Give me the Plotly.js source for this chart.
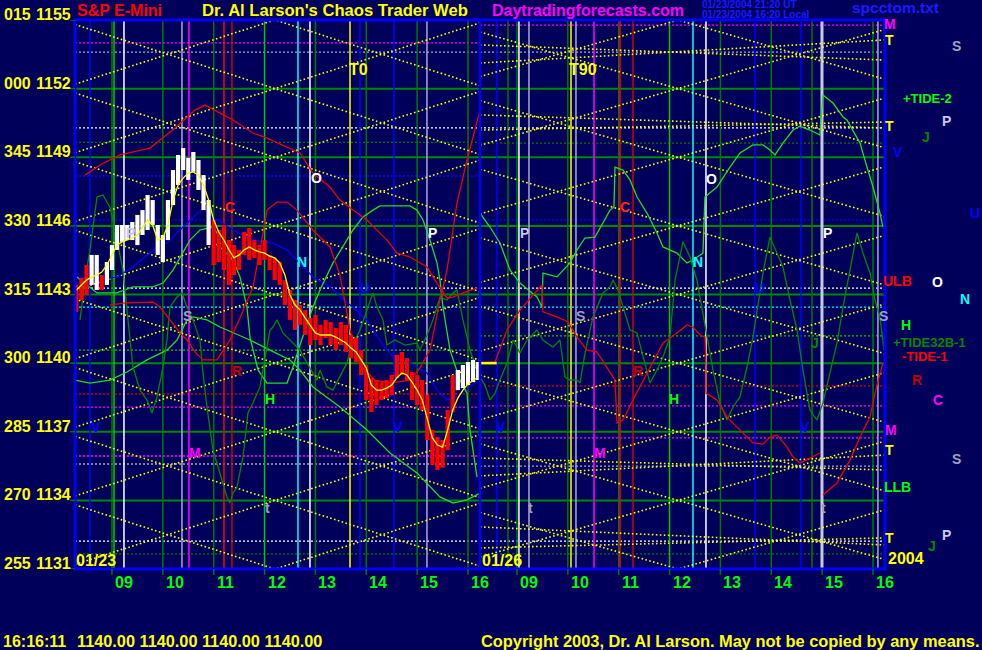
<!DOCTYPE html>
<html><head><meta charset="utf-8">
<script src="https://cdn.plot.ly/plotly-3.0.1.min.js"></script>
<style>html,body{margin:0;padding:0;background:#00005a;}#chart{width:982px;height:650px;}</style>
</head><body><div id="chart"></div>
<script>
// ================= DATA =================
// price grid (left axis) and the matching degree labels
const priceLevels  = [1155, 1152, 1149, 1146, 1143, 1140, 1137, 1134, 1131];
const degreeLabels = ['015','000','345','330','315','300','285','270','255'];
// hour ticks
const hourTicks  = [9, 10, 11, 12, 13, 14, 15, 16];
const hourLabels = ['09','10','11','12','13','14','15','16'];
// two sessions on a continuous hour axis (session 2 shifted by dayShift)
const dayShift   = 7.963;
const dayBounds  = [[8.273, 16.236], [16.236, 24.199]];
const dayLabels  = ['01/23', '01/26'];

// 6-minute bars, 01/23  (time in hours, high, low, 1 = white bar / 0 = red bar)
const barTime = [8.3,8.4,8.5,8.6,8.7,8.8,8.9,9.0,9.1,9.2,9.3,9.4,9.5,9.6,9.7,9.8,9.9,10.0,10.1,10.2,10.3,10.4,10.5,10.6,10.7,10.8,10.9,11.0,11.1,11.2,11.3,11.4,11.5,11.6,11.7,11.8,11.9,12.0,12.1,12.2,12.3,12.4,12.5,12.6,12.7,12.8,12.9,13.0,13.1,13.2,13.3,13.4,13.5,13.6,13.7,13.8,13.9,14.0,14.1,14.2,14.3,14.4,14.5,14.6,14.7,14.8,14.9,15.0,15.1,15.2,15.3,15.4,15.5,15.6,15.7,15.8,15.9,16.0,16.1,16.2];
const barHigh = [1143.42,1143.72,1144.29,1144.73,1144.73,1143.85,1144.42,1145.16,1146.04,1146.04,1146.04,1146.17,1146.48,1146.69,1147.35,1147.13,1146.04,1145.60,1147.13,1148.44,1149.10,1149.40,1148.97,1149.23,1148.88,1148.22,1147.13,1146.26,1145.82,1146.04,1145.38,1145.16,1144.95,1145.73,1145.91,1145.38,1145.16,1145.38,1144.73,1144.60,1144.42,1143.63,1143.20,1142.76,1142.54,1142.32,1141.97,1142.10,1141.67,1141.89,1141.80,1141.54,1141.80,1141.67,1141.23,1141.10,1140.57,1139.92,1139.35,1139.26,1139.17,1139.26,1139.48,1140.36,1140.49,1140.22,1139.61,1139.48,1139.26,1138.61,1137.08,1136.77,1136.64,1137.95,1139.48,1139.70,1139.92,1140.05,1140.14,1140.05];
const barLow  = [1142.24,1142.76,1142.98,1143.42,1143.20,1143.20,1143.42,1144.07,1144.95,1145.30,1145.38,1145.38,1145.16,1145.60,1145.82,1146.04,1144.73,1144.42,1145.38,1146.91,1147.79,1148.44,1148.01,1148.36,1147.57,1146.69,1145.16,1144.29,1144.42,1144.07,1143.42,1143.85,1144.07,1144.73,1144.51,1144.60,1144.29,1144.51,1144.07,1143.63,1143.42,1142.54,1141.89,1141.45,1141.67,1141.23,1140.79,1141.01,1140.79,1141.10,1140.79,1140.57,1140.79,1140.49,1140.22,1140.05,1139.48,1138.39,1137.86,1138.17,1138.39,1138.47,1138.61,1139.35,1139.48,1139.26,1138.39,1138.17,1137.95,1136.64,1135.55,1135.33,1135.42,1136.20,1137.86,1138.82,1138.91,1139.04,1139.17,1139.26];
const barUp   = [0,0,0,1,1,0,1,1,1,1,1,1,1,1,1,1,1,1,1,1,1,1,1,1,1,1,1,0,0,0,0,0,0,0,0,0,0,0,0,0,0,0,0,0,0,0,0,0,0,0,0,0,0,0,0,0,0,0,0,0,0,0,0,0,0,0,0,0,0,0,0,0,0,0,0,1,1,1,1,1];
// yellow average line over the bars
const avgLine = [1143.20,1143.42,1143.63,1143.77,1143.85,1143.98,1144.29,1144.73,1145.16,1145.30,1145.38,1145.47,1145.60,1145.91,1146.26,1146.04,1145.38,1145.47,1146.04,1147.13,1147.79,1148.09,1148.31,1148.36,1148.22,1147.79,1147.13,1146.26,1145.73,1145.38,1144.95,1144.60,1144.73,1144.95,1145.08,1144.95,1144.86,1144.81,1144.68,1144.60,1144.38,1143.85,1142.98,1142.54,1142.32,1141.97,1141.67,1141.32,1141.23,1141.23,1141.23,1141.14,1141.01,1140.88,1140.66,1140.49,1140.14,1139.79,1139.04,1138.82,1138.82,1138.91,1139.04,1139.35,1139.57,1139.48,1139.17,1138.82,1138.39,1137.51,1136.73,1136.42,1136.33,1137.08,1137.95,1138.47,1138.82,1139.09,1139.26,1139.39];
const lastPrice = 1140.00;

// forecast / cycle curves  [hour, price]
const redA = [[8.469,1148.22],[8.764,1148.66],[9.157,1149.10],[9.747,1149.40],[10.239,1150.28],[10.632,1151.06],[10.829,1151.28],[11.025,1151.06],[11.379,1150.63],[11.772,1150.06],[12.048,1149.84],[12.696,1149.19],[12.952,1148.31],[13.286,1147.70],[13.483,1147.13],[13.739,1146.69],[14.014,1146.26],[14.407,1145.38],[14.604,1144.81],[14.859,1144.64],[15.194,1144.20],[15.390,1143.50],[15.587,1142.85],[15.705,1142.89],[15.901,1143.07],[16.177,1143.28]];
const redB = [[8.961,1142.54],[9.256,1142.63],[9.806,1142.67],[9.944,1142.45],[10.337,1141.32],[10.475,1141.01],[10.632,1140.49],[10.789,1140.14],[11.064,1140.14],[11.320,1141.01],[11.517,1141.97],[11.772,1143.33],[11.910,1144.95],[12.048,1146.69],[12.244,1147.04],[12.441,1147.04],[12.637,1146.69],[12.952,1145.82],[13.286,1145.08],[13.483,1143.85],[13.680,1141.45],[13.876,1139.92],[14.171,1139.26],[14.466,1139.13],[14.859,1139.26],[15.056,1139.79],[15.253,1140.57],[15.449,1142.76],[15.587,1144.07],[15.783,1147.00],[15.980,1148.88],[16.177,1150.63],[16.236,1151.06]];
const redC = [[16.236,1140.01],[16.531,1140.05],[16.767,1141.45],[17.022,1142.32],[17.455,1143.42],[17.474,1142.24],[17.750,1142.02],[17.966,1141.80],[18.143,1141.14],[18.339,1140.57],[18.536,1140.49],[18.733,1139.83],[18.890,1139.26],[18.929,1137.38],[19.047,1137.51],[19.244,1138.39],[19.382,1138.96],[19.578,1139.83],[19.834,1140.88],[20.109,1141.32],[20.305,1141.67],[20.423,1141.58],[20.561,1141.23],[20.659,1141.14],[20.679,1139.83],[20.679,1138.69],[20.895,1138.39],[21.092,1137.64],[21.289,1137.21],[21.485,1136.77],[21.603,1136.51],[21.800,1136.46],[21.937,1136.77],[22.075,1136.86],[22.272,1136.33],[22.390,1135.90],[22.527,1135.63],[22.920,1136.07]];
const redD = [[22.979,1134.23],[23.255,1134.76],[23.511,1135.76],[23.707,1136.77],[23.904,1137.64],[24.002,1138.69],[24.159,1140.01]];
const blueA = [[8.312,1143.77],[8.764,1143.63],[9.098,1143.77],[9.413,1144.20],[9.885,1145.08],[10.081,1145.25],[10.337,1145.82],[10.593,1146.39],[10.789,1146.78],[10.986,1146.39],[11.379,1145.82],[11.772,1145.38],[12.166,1145.25],[12.441,1144.95],[12.696,1144.38],[12.952,1143.77],[13.286,1143.33],[13.581,1142.76],[14.014,1141.89],[14.328,1140.79],[14.525,1140.27],[14.859,1140.01],[15.194,1139.57],[15.390,1138.82],[15.587,1138.39],[15.783,1138.52],[16.039,1138.96],[16.177,1139.26]];
const greenA = [[8.312,1143.77],[8.705,1143.07],[9.098,1143.07],[9.413,1143.33],[9.806,1143.33],[10.003,1143.50],[10.199,1144.07],[10.396,1144.81],[10.534,1145.38],[10.730,1145.82],[10.986,1145.95],[11.064,1145.69],[11.124,1145.08],[11.379,1144.51],[11.517,1143.77],[11.654,1142.45],[11.713,1141.14],[11.871,1139.70],[12.048,1139.13],[12.441,1139.13],[12.559,1139.83],[12.696,1140.79],[12.952,1142.45],[13.090,1143.20],[13.345,1144.38],[13.739,1145.82],[13.935,1146.39],[14.132,1146.69],[14.270,1146.87],[14.859,1146.87],[14.997,1146.69],[15.115,1146.26],[15.253,1145.38],[15.390,1144.38],[15.449,1143.63],[15.508,1142.45],[15.587,1141.32],[15.646,1140.57],[15.842,1139.26],[15.980,1138.69],[16.039,1137.08],[16.177,1135.02]];
const greenB = [[8.273,1139.26],[8.567,1139.13],[8.961,1139.26],[9.295,1139.61],[9.688,1140.14],[10.081,1140.57],[10.278,1141.01],[10.475,1141.89],[10.593,1142.02],[10.868,1141.89],[11.124,1141.58],[11.379,1141.32],[11.713,1141.01],[12.107,1140.57],[12.500,1140.14],[12.696,1139.70],[12.952,1138.96],[13.483,1138.08],[14.014,1137.08],[14.466,1136.07],[14.997,1135.20],[15.449,1134.15],[15.705,1133.88],[15.980,1134.02],[16.236,1134.32]];
const greenC = [[16.236,1146.56],[16.432,1145.95],[16.629,1145.25],[16.825,1144.07],[17.022,1143.50],[17.356,1142.89],[17.455,1142.45],[17.474,1143.94],[17.750,1143.77],[18.005,1144.38],[18.143,1144.95],[18.300,1145.47],[18.497,1145.51],[18.654,1146.12],[18.792,1146.69],[18.870,1146.82],[18.890,1148.57],[19.047,1148.44],[19.185,1148.01],[19.323,1147.26],[19.519,1146.56],[19.716,1145.69],[19.834,1145.08],[20.109,1144.81],[20.305,1144.38],[20.423,1144.51],[20.620,1144.81],[20.659,1147.26],[20.895,1147.70],[21.151,1148.57],[21.348,1149.19],[21.603,1149.54],[21.800,1149.54],[21.937,1149.32],[22.036,1149.10],[22.193,1149.62],[22.390,1150.19],[22.527,1150.36],[22.724,1150.19],[22.920,1149.97],[22.940,1150.76],[22.979,1151.72],[23.176,1151.37],[23.373,1150.76],[23.451,1150.63],[23.707,1149.62],[23.845,1148.57],[23.963,1147.70],[24.100,1146.56],[24.159,1145.95]];
const dkGreenA = [[8.371,1141.89],[8.469,1143.63],[8.567,1144.95],[8.705,1147.26],[8.823,1147.35],[8.961,1146.82],[9.059,1145.82],[9.216,1144.07],[9.315,1141.89],[9.413,1139.83],[9.551,1138.82],[9.688,1138.39],[9.786,1137.82],[9.885,1138.52],[10.003,1139.83],[10.081,1141.01],[10.140,1142.45],[10.278,1142.89],[10.376,1143.07],[10.475,1142.45],[10.593,1141.89],[10.730,1141.01],[10.789,1139.57],[10.868,1138.08],[10.986,1136.20],[11.124,1135.20],[11.261,1134.15],[11.320,1133.88],[11.379,1134.32],[11.458,1134.58],[11.576,1135.90],[11.674,1137.82],[11.772,1138.26],[11.910,1138.96],[12.008,1140.14],[12.107,1141.45],[12.166,1141.58],[12.244,1141.89],[12.362,1141.32],[12.500,1141.01],[12.696,1140.57],[12.834,1140.01],[13.031,1139.26],[13.090,1139.70],[13.227,1138.96],[13.345,1138.82],[13.483,1139.39],[13.621,1140.01],[13.680,1140.57],[13.876,1141.45],[14.014,1142.32],[14.132,1143.07],[14.210,1142.45],[14.328,1141.89],[14.407,1140.79],[14.564,1141.01],[14.761,1140.79],[14.997,1140.88],[15.056,1140.57],[15.194,1141.23],[15.312,1141.89],[15.449,1142.89],[15.587,1142.76],[15.705,1143.07],[15.783,1143.20],[15.901,1141.89],[16.039,1140.57],[16.177,1139.70]];
const dkGreenB = [[16.236,1139.39],[16.334,1139.04],[16.432,1138.39],[16.531,1138.69],[16.629,1139.26],[16.767,1140.01],[16.885,1141.01],[17.022,1140.44],[17.160,1141.01],[17.356,1141.45],[17.474,1141.01],[17.671,1140.70],[17.809,1141.01],[17.907,1139.39],[18.005,1139.26],[18.143,1139.26],[18.202,1139.13],[18.300,1140.44],[18.457,1142.02],[18.654,1143.07],[18.792,1143.33],[18.851,1143.63],[18.949,1143.20],[19.047,1142.45],[19.185,1141.45],[19.323,1141.32],[19.441,1140.27],[19.578,1139.13],[19.716,1139.70],[19.834,1140.27],[19.971,1141.14],[20.070,1143.63],[20.227,1145.30],[20.364,1144.64],[20.502,1143.63],[20.620,1142.19],[20.699,1141.14],[20.817,1139.70],[20.954,1138.26],[21.092,1137.51],[21.210,1138.08],[21.348,1138.52],[21.485,1139.83],[21.603,1141.14],[21.800,1143.94],[21.937,1145.51],[22.075,1144.81],[22.193,1144.20],[22.331,1142.76],[22.468,1141.45],[22.586,1139.70],[22.724,1137.95],[22.862,1137.51],[22.979,1138.26],[23.117,1139.57],[23.255,1140.88],[23.373,1142.45],[23.511,1144.07],[23.648,1145.69],[23.766,1144.81],[23.904,1143.94],[24.002,1142.76],[24.100,1142.02],[24.179,1140.57]];

// vertical event lines (hour on the continuous axis, kind)
const vlineTime = [8.567, 9.04, 9.236, 10.376, 10.514, 11.202, 11.359, 12.657, 12.893, 13.68, 13.876, 14.545, 15.193,
                   16.57, 16.786, 17.002, 17.199, 18.025, 18.123, 18.477, 18.988, 19.244, 20.424, 20.679, 21.643, 22.547, 22.763, 22.96, 24.06];
const vlineKind = ['blue','green','white','lav','magenta','red','red2','cyan','white','yellow','blue','blue','lav',
                   'blue','dkgreen','white','lav','yellow','lav','magenta','red','red2','cyan','white','blue','blue','dkgreen','lavThick','lav'];

// dotted horizontal levels, per session
const dotPrice1 = [1154.00, 1153.60, 1150.28, 1149.65, 1148.18, 1146.26, 1143.28, 1142.45, 1140.57, 1138.65, 1138.08, 1135.94, 1135.59, 1132.22, 1131.66];
const dotKind1  = ['magenta','lav','white','dkgreen','blue','blue','white','cyan','green','dkred','magenta','magenta','lav','white','dkgreen'];
const dotPrice2 = [1154.78, 1153.60, 1150.28, 1149.62, 1146.26, 1143.28, 1142.45, 1141.19, 1139.00, 1138.13, 1136.73, 1135.50, 1132.22, 1131.66];
const dotKind2  = ['magenta','lav','white','dkgreen','blue','white','cyan','green','dkred','magenta','magenta','lav','white','dkgreen'];

// yellow time/price lattice: centre hour per session, slope (points per hour), spacing
const latticeCenter = [12.205, 20.129];
const latticeSlope  = [0.713, 0.636];
const latticeLevels = [1128, 1131, 1134, 1137, 1140, 1143, 1146, 1149, 1152, 1155, 1158];
// flatter "T" lines on session 2: [startPrice, endPrice]
const tLines = [[1153.12,1154.13],[1153.91,1153.25],[1150.85,1150.28],[1150.19,1150.54],[1135.07,1135.98],[1135.85,1135.33],[1132.84,1132.05],[1131.92,1132.36]];

// ================= STYLE =================
const COL = {
  blue:'#0000ff', dkgreen:'#007800', green:'#00c800', white:'#ffffff', lav:'#a8a8d0', lavThick:'#c8c8e6',
  magenta:'#ff00ff', red:'#ff0000', red2:'#d00000', dkred:'#c00000', cyan:'#00ffff', yellow:'#ffff00'
};
const BG = '#00005a';
const FONT = 'Liberation Sans, Arial, sans-serif';
const X0 = dayBounds[0][0], X1 = dayBounds[1][1], Y0 = 1131, Y1 = 1155;

const traces = [];
function add(x, y, color, width, dash) {
  traces.push({type:'scatter', mode:'lines', x:x, y:y, line:{color:color, width:width, dash:dash||'solid'},
               hoverinfo:'skip', showlegend:false, connectgaps:false});
}
function segs(list) { // list of [x0,y0,x1,y1]
  const x=[], y=[];
  list.forEach(s => { x.push(s[0], s[2], null); y.push(s[1], s[3], null); });
  return {x, y};
}

// solid green price grid
{
  const s = segs(priceLevels.slice(1, -1).map(p => [X0, p, X1, p]));
  add(s.x, s.y, '#008800', 2);
}
// dotted levels
[[dotPrice1, dotKind1, 0], [dotPrice2, dotKind2, 1]].forEach(([ps, ks, d]) => {
  const groups = {};
  ps.forEach((p, i) => { (groups[ks[i]] = groups[ks[i]] || []).push([dayBounds[d][0], p, dayBounds[d][1], p]); });
  Object.keys(groups).forEach(k => { const s = segs(groups[k]); add(s.x, s.y, COL[k], 1.3, '2px,2px'); });
});
// hour lines
{
  const dk = [], br = [];
  [0, 1].forEach(d => hourTicks.forEach(h => {
    const t = h + d * dayShift;
    (h === 12 ? br : dk).push([t, Y0, t, Y1]);
  }));
  let s = segs(dk); add(s.x, s.y, COL.dkgreen, 1.5);
  s = segs(br); add(s.x, s.y, COL.green, 1.5);
}
// event lines
{
  const groups = {};
  vlineTime.forEach((t, i) => { (groups[vlineKind[i]] = groups[vlineKind[i]] || []).push([t, Y0, t, Y1]); });
  Object.keys(groups).forEach(k => { const s = segs(groups[k]); add(s.x, s.y, COL[k], k === 'lavThick' ? 3 : 1.5); });
}
// lattice
{
  const L = [];
  [0, 1].forEach(d => {
    const a = dayBounds[d][0], b = dayBounds[d][1], c = latticeCenter[d], m = latticeSlope[d];
    latticeLevels.forEach(p => {
      L.push([a, p + m * (a - c), b, p + m * (b - c)]);
      L.push([a, p - m * (a - c), b, p - m * (b - c)]);
    });
  });
  const s = segs(L); add(s.x, s.y, COL.yellow, 1.6, '1.6px,2.4px');
  const T = segs(tLines.map(v => [dayBounds[1][0], v[0], dayBounds[1][1], v[1]]));
  add(T.x, T.y, COL.yellow, 1.6, '1.6px,2.4px');
}
// curves
function curve(arr, color, width) { add(arr.map(v => v[0]), arr.map(v => v[1]), color, width); }
curve(blueA, '#0000ff', 1.3);
curve(greenB, '#22dd22', 1.3);
curve(greenA, '#22dd22', 1.3);
curve(greenC, '#22dd22', 1.3);
curve(dkGreenA, '#008800', 1.3);
curve(dkGreenB, '#008800', 1.3);
curve(redA, '#ee0000', 1.3);
curve(redB, '#ee0000', 1.3);
curve(redC, '#ee0000', 1.3);
curve(redD, '#ee0000', 1.3);
// bars
{
  const w = [], r = [];
  barTime.forEach((t, i) => (barUp[i] ? w : r).push([t, barLow[i], t, barHigh[i]]));
  let s = segs(r); add(s.x, s.y, '#ff0000', 4.2);
  s = segs(w); add(s.x, s.y, '#ffffff', 4.2);
}
add(barTime, avgLine, '#ffff00', 1.3);
add([dayBounds[1][0], dayBounds[1][0] + 0.33], [lastPrice, lastPrice], '#ffff00', 2.5);

// ================= TEXT =================
const ann = [];
function P(x, y) { return {x: (x - 75) / 810, y: (569 - y) / 549}; }
function txt(s, x, y, color, size, anchor) {
  const p = P(x, y);
  ann.push({xref:'paper', yref:'paper', x:p.x, y:p.y, text:'<b>' + s + '</b>', showarrow:false,
            xanchor:anchor || 'center', yanchor:'middle', font:{family:FONT, size:size, color:color}});
}
// header / footer
txt('S&amp;P E-Mini', 119, 11, '#ff0000', 16);
txt("Dr. Al Larson's Chaos Trader Web", 335, 11, '#ffff00', 16.6);
txt('Daytradingforecasts.com', 588, 11, '#ff00ff', 16);
txt('01/23/2004 21:20 UT', 700, 5, '#1a1aff', 10, 'left');
txt('01/23/2004 16:20 Local', 700, 15, '#1a1aff', 10, 'left');
txt('spcctom.txt', 895, 8, '#1a1aff', 15.5);
txt('16:16:11', 1, 641, '#ffff00', 16, 'left');
txt('1140.00 1140.00 1140.00 1140.00', 75, 641, '#ffff00', 16.3, 'left');
txt('Copyright 2003, Dr. Al Larson. May not be copied by any means.', 479, 641, '#ffff00', 16.4, 'left');
// left axis labels
priceLevels.forEach((p, i) => {
  ann.push({xref:'paper', yref:'y', x:-73/810, y:p, text:'<b>' + degreeLabels[i] + '</b>', showarrow:false,
            xanchor:'left', yanchor:'bottom', yshift:-5, font:{family:FONT, size:16, color:'#ffff00'}});
  ann.push({xref:'paper', yref:'y', x:-2/810, y:p, text:'<b>' + p + '</b>', showarrow:false,
            xanchor:'right', yanchor:'bottom', yshift:-5, font:{family:FONT, size:16, color:'#ffff00'}});
});
// hour labels
[0, 1].forEach(d => hourTicks.forEach((h, i) => {
  ann.push({xref:'x', yref:'paper', x:h + d * dayShift, y:0, xshift:12, yshift:-3, text:'<b>' + hourLabels[i] + '</b>',
            showarrow:false, xanchor:'center', yanchor:'top', font:{family:FONT, size:16, color:'#00ff00'}});
}));
// session dates
txt(dayLabels[0], 96, 560, '#ffff00', 16);
txt(dayLabels[1], 502, 560, '#ffff00', 16);
txt('2004', 906, 558, '#ffff00', 16);
txt('T0', 358, 69, '#ffff00', 16);
txt('T90', 583, 69, '#ffff00', 16);
// in-plot letters
const LAV = '#c8c8f0', GRY = '#a0a0c0';
[['P',130,233,LAV],['S',187,316,GRY],['C',230,207,'#ff2020'],['O',316,178,'#ffffff'],['N',302,262,'#00ffff'],
 ['R',237,371,'#c00000'],['H',270,399,'#00ff00'],['V',96,427,'#0000ff'],['M',195,453,'#ff00ff'],['t',267,508,GRY],
 ['P',432,233,'#ffffff'],['U',365,288,'#0000ff'],['V',398,427,'#0000ff'],
 ['P',524,233,LAV],['S',580,316,GRY],['C',625,207,'#ff2020'],['O',711,179,'#ffffff'],['N',698,262,'#00ffff'],
 ['U',760,288,'#0000ff'],['P',827,233,'#ffffff'],['S',883,316,GRY],['R',638,371,'#c00000'],['H',674,399,'#00ff00'],
 ['V',501,427,'#0000ff'],['V',805,427,'#0000ff'],['M',600,453,'#ff00ff'],['t',530,508,GRY],['t',823,508,GRY],['J',815,343,'#008800']
].forEach(a => txt(a[0], a[1], a[2], a[3], 14));
// right column
[['M',890,24,'#ff00ff'],['T',889,40,'#ffff00'],['S',956,46,GRY],['+TIDE-2',927,98,'#00ff00'],['T',889,126,'#ffff00'],
 ['P',946,121,LAV],['J',926,137,'#008800'],['V',898,152,'#0000ff'],['U',975,213,'#0000ff'],['ULB',898,281,'#ff0000'],
 ['O',938,282,'#ffffff'],['N',965,299,'#00ffff'],['H',906,325,'#00ff00'],['+TIDE32B-1',929,342,'#008800'],
 ['-TIDE-1',925,357,'#ff0000'],['R',917,380,'#c00000'],['C',938,400,'#ff00ff'],['M',891,430,'#ff00ff'],
 ['T',889,450,'#ffff00'],['S',956,459,GRY],['LLB',897,487,'#00ff00'],['T',889,538,'#ffff00'],['P',946,535,LAV],['J',932,546,'#008800']
].forEach(a => txt(a[0], a[1], a[2], a[3], a[0].length > 3 ? 13 : 14));

// ================= SHAPES =================
const shapes = [
  {type:'rect', xref:'paper', yref:'paper', x0:0, x1:1, y0:0, y1:1, line:{color:'#0000ff', width:3}},
  {type:'line', xref:'x', yref:'paper', x0:dayBounds[1][0], x1:dayBounds[1][0], y0:0, y1:1, line:{color:'#0000ff', width:2.5}}
];
[0, 1].forEach(d => hourTicks.forEach(h => shapes.push({type:'line', xref:'x', yref:'paper', x0:h + d * dayShift, x1:h + d * dayShift,
  y0:-6/549, y1:0, line:{color:'#007800', width:1.5}})));
priceLevels.forEach(p => shapes.push({type:'line', xref:'paper', yref:'y', x0:-5/810, x1:0, y0:p, y1:p, line:{color:'#007800', width:1.5}}));

const layout = {
  width:982, height:650, margin:{l:75, r:97, t:20, b:81},
  paper_bgcolor:BG, plot_bgcolor:BG, showlegend:false, hovermode:false,
  xaxis:{range:[X0, X1], showgrid:false, zeroline:false, showticklabels:false, showline:false, ticks:''},
  yaxis:{range:[Y0, Y1], showgrid:false, zeroline:false, showticklabels:false, showline:false, ticks:''},
  annotations:ann, shapes:shapes
};
Plotly.newPlot('chart', traces, layout, {staticPlot:true, displayModeBar:false});
</script></body></html>
